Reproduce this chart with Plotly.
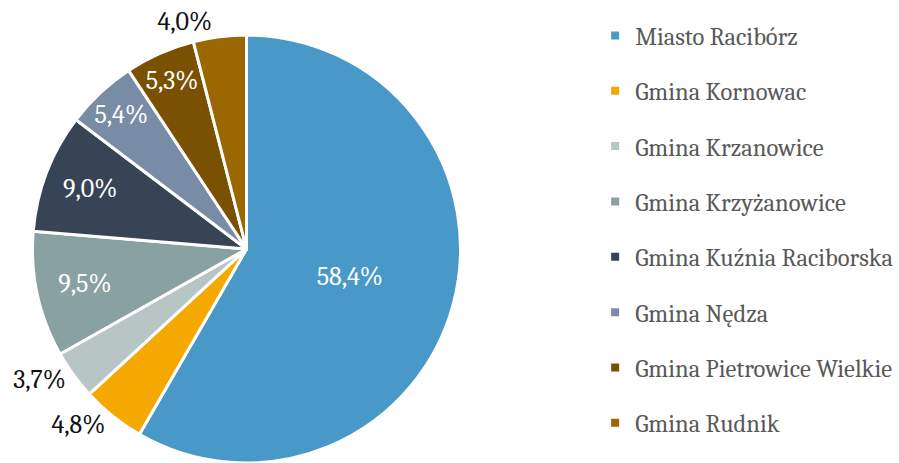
import plotly.graph_objects as go

labels = ["Miasto Racibórz", "Gmina Kornowac", "Gmina Krzanowice", "Gmina Krzyżanowice",
          "Gmina Kuźnia Raciborska", "Gmina Nędza", "Gmina Pietrowice Wielkie", "Gmina Rudnik"]
values = [58.4, 4.8, 3.7, 9.5, 9.0, 5.4, 5.3, 4.0]
colors = ["#4899C8", "#F5A900", "#B7C5C5", "#8AA1A1", "#374455", "#798CA6", "#7A5100", "#9A6700"]
text_pos = ["inside", "outside", "outside", "inside", "inside", "inside", "inside", "outside"]

FONT = "Cambria, Caladea, 'DejaVu Serif', serif"

fig = go.Figure()
fig.add_trace(go.Pie(
    labels=labels, values=values, sort=False, direction="clockwise", rotation=0,
    marker=dict(colors=colors, line=dict(color="white", width=3)),
    texttemplate="%{value:.1f}%", textinfo="text",
    textposition=text_pos, insidetextorientation="horizontal",
    insidetextfont=dict(color="white", size=26, family=FONT),
    outsidetextfont=dict(color="#111111", size=26, family=FONT),
    showlegend=False, hoverinfo="label+value",
    domain=dict(x=[0.0342, 0.5142], y=[0, 0.9244]),
))

for lab, col in zip(labels, colors):
    fig.add_trace(go.Scatter(
        x=[None], y=[None], mode="markers", name=lab, legendgroup=lab,
        marker=dict(symbol="square", size=8, color=col),
    ))

fig.update_layout(
    width=899, height=463,
    margin=dict(l=0, r=0, t=0, b=0, autoexpand=False),
    paper_bgcolor="white", plot_bgcolor="white",
    separators=", ",
    uniformtext=dict(mode="show", minsize=26),
    xaxis=dict(visible=False), yaxis=dict(visible=False),
    legend=dict(x=0.662, y=0.972, xanchor="left", yanchor="top",
                font=dict(family=FONT, size=24.5, color="#595959"),
                tracegroupgap=20.5, itemwidth=30,
                bgcolor="rgba(0,0,0,0)"),
    font=dict(family=FONT),
)

fig.write_html("out.html", config={"displayModeBar": False},
               post_script="document.body.style.margin='0px';document.body.style.overflow='hidden';")
